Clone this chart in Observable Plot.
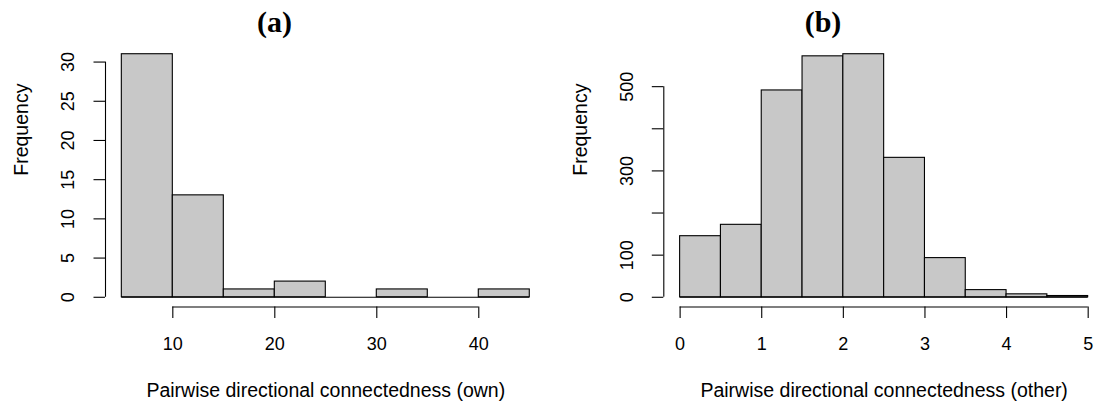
<!DOCTYPE html>
<html>
<head>
<meta charset="utf-8">
<script src="https://cdn.jsdelivr.net/npm/d3@7"></script>
<script src="https://cdn.jsdelivr.net/npm/@observablehq/plot@0.6"></script>
<style>
  html, body { margin: 0; padding: 0; background: #fff; overflow: hidden; }
  #wrap { display: flex; flex-direction: row; width: 1097px; height: 403px; overflow: hidden; }
  svg { display: block; flex: none; }
</style>
</head>
<body>
<div id="wrap"></div>
<script>
// ---- Panel (a) data ----
const ownBreaks = [5, 10, 15, 20, 25, 30, 35, 40, 45];
const ownCounts = [31, 13, 1, 2, 0, 1, 0, 1];
const ownXTicks = [10, 20, 30, 40];
const ownYTicks = [0, 5, 10, 15, 20, 25, 30];
const ownYLabels = [0, 5, 10, 15, 20, 25, 30];

// ---- Panel (b) data ----
const otherBreaks = [0, 0.5, 1, 1.5, 2, 2.5, 3, 3.5, 4, 4.5, 5];
const otherCounts = [145, 172, 491, 572, 577, 331, 93, 17, 7, 3];
const otherXTicks = [0, 1, 2, 3, 4, 5];
const otherYTicks = [0, 100, 200, 300, 400, 500];
const otherYLabels = [0, 100, 300, 500];

const titles = ["(a)", "(b)"];
const xLabels = ["Pairwise directional connectedness (own)", "Pairwise directional connectedness (other)"];
const yLabel = "Frequency";

function hist({breaks, counts, xTicks, yTicks, yLabels, title, xLabel, width, xLeft, xRight}) {
  const bins = counts.map((c, i) => ({x1: breaks[i], x2: breaks[i + 1], y: c}));
  const xmin = breaks[0], xmax = breaks[breaks.length - 1];
  const xpad = 0.04 * (xmax - xmin);
  const ymax = d3.max(counts);
  const ypad = 0.04 * ymax;
  const xDom = [xmin - xpad, xmax + xpad];
  const yDom = [-ypad, ymax + ypad];
  const font = "'Liberation Sans', Arial, Helvetica, sans-serif";
  const titleDx = width / 2 - (xLeft + xRight) / 2;
  return Plot.plot({
    width, height: 403,
    marginLeft: xLeft, marginRight: width - xRight, marginTop: 44, marginBottom: 96.5,
    style: {fontFamily: font, fontSize: "18px", color: "#000", background: "#fff", overflow: "visible"},
    x: {domain: xDom, range: [xLeft, xRight], axis: null},
    y: {domain: yDom, axis: null},
    marks: [
      Plot.rectY(bins, {x1: "x1", x2: "x2", y: "y", fill: "#c8c8c8", stroke: "#000", strokeWidth: 1.1, inset: 0}),
      Plot.ruleY([0], {x1: xmin, x2: xmax, stroke: "#000", strokeWidth: 1.1}),
      // x axis
      Plot.ruleY([yDom[0]], {x1: xTicks[0], x2: xTicks[xTicks.length - 1], stroke: "#000", strokeWidth: 1.1}),
      Plot.axisX({ticks: xTicks, tickSize: 11.5, tickPadding: 19, tickFormat: d => String(d), fontSize: 18, strokeWidth: 1.1, label: null}),
      // y axis
      Plot.ruleX([xDom[0]], {y1: yTicks[0], y2: yTicks[yTicks.length - 1], stroke: "#000", strokeWidth: 1.1}),
      Plot.axisY({ticks: yTicks, tickSize: 11.5, tickFormat: () => "", strokeWidth: 1.1, label: null}),
      Plot.text(yLabels, {y: d => d, frameAnchor: "left", dx: -37, rotate: -90, text: d => String(d), fontSize: 18, lineAnchor: "middle", textAnchor: "middle"}),
      // labels
      Plot.text([xLabel], {frameAnchor: "bottom", dy: 83.5, fontSize: 19.5, lineAnchor: "middle"}),
      Plot.text([yLabel], {frameAnchor: "left", dx: -83.5, rotate: -90, fontSize: 19.5, lineAnchor: "middle"}),
      Plot.text([title], {frameAnchor: "top", dx: titleDx, dy: -22, fontSize: 30, fontWeight: "bold", fontFamily: "'Liberation Serif', 'DejaVu Serif', serif", lineAnchor: "middle"})
    ]
  });
}

const wrap = document.getElementById("wrap");
wrap.appendChild(hist({
  breaks: ownBreaks, counts: ownCounts, xTicks: ownXTicks, yTicks: ownYTicks, yLabels: ownYLabels,
  title: titles[0], xLabel: xLabels[0], width: 548, xLeft: 105, xRight: 545.6
}));
wrap.appendChild(hist({
  breaks: otherBreaks, counts: otherCounts, xTicks: otherXTicks, yTicks: otherYTicks, yLabels: otherYLabels,
  title: titles[1], xLabel: xLabels[1], width: 549, xLeft: 115.3, xRight: 556
}));
</script>
</body>
</html>
